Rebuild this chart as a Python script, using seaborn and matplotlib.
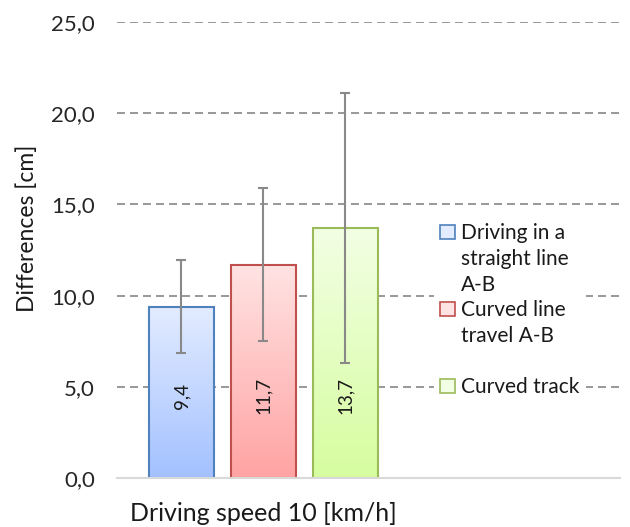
import seaborn as sns
import pandas as pd
import numpy as np
import matplotlib.pyplot as plt
from matplotlib.colors import LinearSegmentedColormap
from matplotlib.patches import Patch

# data
category = ["Driving speed 10 [km/h]"]
series = ["Driving in a straight line A-B", "Curved line travel A-B", "Curved track"]
values = [9.4, 11.7, 13.7]
errors = [2.55, 4.2, 7.4]
value_labels = ["9,4", "11,7", "13,7"]
# legend text as it is wrapped in the chart
legend_lines = [["Driving in a", "straight line", "A-B"],
                ["Curved line", "travel A-B", ""],
                ["Curved track"]]

top_colors = ["#e3ecff", "#ffe3e3", "#f2ffe4"]
bottom_colors = ["#a3c1ff", "#ffa3a3", "#d6fd9f"]
edge_colors = ["#4f81bd", "#c0504d", "#9bbb59"]

df = pd.DataFrame({"speed": category * 3, "series": series, "value": values})

sns.set_style("white")
plt.rcParams["font.family"] = ["Lato", "DejaVu Sans"]

fig = plt.figure(figsize=(6.3, 5.27), dpi=100)
ax = fig.add_axes([0.1857, 0.093, 0.7983, 0.865])

sns.barplot(data=df, x="speed", y="value", hue="series", palette=bottom_colors,
            width=0.8, gap=0.2, errorbar=None, legend=False, ax=ax)

bar_containers = list(ax.containers)
for i, cont in enumerate(bar_containers):
    for bar in cont:
        bar.set_edgecolor(edge_colors[i])
        bar.set_linewidth(1.5)
        x0, y0 = bar.get_x(), bar.get_y()
        w, h = bar.get_width(), bar.get_height()
        cmap = LinearSegmentedColormap.from_list("g", [bottom_colors[i], top_colors[i]])
        grad = np.linspace(0, 1, 256).reshape(-1, 1)
        im = ax.imshow(grad, extent=[x0, x0 + w, y0, y0 + h], origin="lower",
                       cmap=cmap, aspect="auto", zorder=3.5)
        im.set_clip_path(bar)
        bar.set_facecolor("none")
        bar.set_zorder(4)
        xc = x0 + w / 2
        ax.errorbar(xc, values[i], yerr=errors[i], color="#898989", lw=1.5,
                    capsize=3.3, capthick=1.5, zorder=5)
        ax.text(xc, 4.5, value_labels[i], rotation=90, ha="center", va="center",
                fontsize=13.5, color="#1a1a1a", zorder=6)

ax.set_xlim(-0.476, 1.159)
ax.set_ylim(0, 25)
ax.set_yticks([0, 5, 10, 15, 20, 25])
ax.set_yticklabels(["0,0", "5,0", "10,0", "15,0", "20,0", "25,0"])
ax.yaxis.grid(True, linestyle=(0, (4.8, 3.0)), color="#868686", lw=1.2)
ax.set_axisbelow(True)
ax.tick_params(axis="y", length=0, pad=16, labelsize=16, labelcolor="#262626")
ax.tick_params(axis="x", length=0, pad=17, labelsize=18, labelcolor="#1a1a1a")

for s in ["left", "right", "top"]:
    ax.spines[s].set_visible(False)
ax.spines["bottom"].set_color("#d9d9d9")
ax.spines["bottom"].set_linewidth(1.5)
ax.spines["bottom"].set_zorder(7)

ax.set_xlabel("")
ax.set_ylabel("Differences [cm]", fontsize=16.5, color="#1a1a1a")
ax.yaxis.set_label_coords(-0.157, 0.548)

handles, labels = [], []
for i, lines in enumerate(legend_lines):
    for j, line in enumerate(lines):
        if j == 0:
            handles.append(Patch(facecolor=top_colors[i], edgecolor=edge_colors[i], lw=1.2))
        else:
            handles.append(Patch(facecolor="none", edgecolor="none"))
        labels.append(line)

leg = ax.legend(handles, labels, loc="upper left", bbox_to_anchor=(0.63, 0.572),
                borderaxespad=0, frameon=True, fontsize=15, handlelength=0.7,
                handleheight=0.7, handletextpad=0.3, labelspacing=0.27, borderpad=0.3)
leg.get_frame().set_facecolor("white")
leg.get_frame().set_edgecolor("none")
leg.get_frame().set_alpha(1)
for t in leg.get_texts():
    t.set_color("#1a1a1a")

fig.savefig("out.png", dpi=100)
